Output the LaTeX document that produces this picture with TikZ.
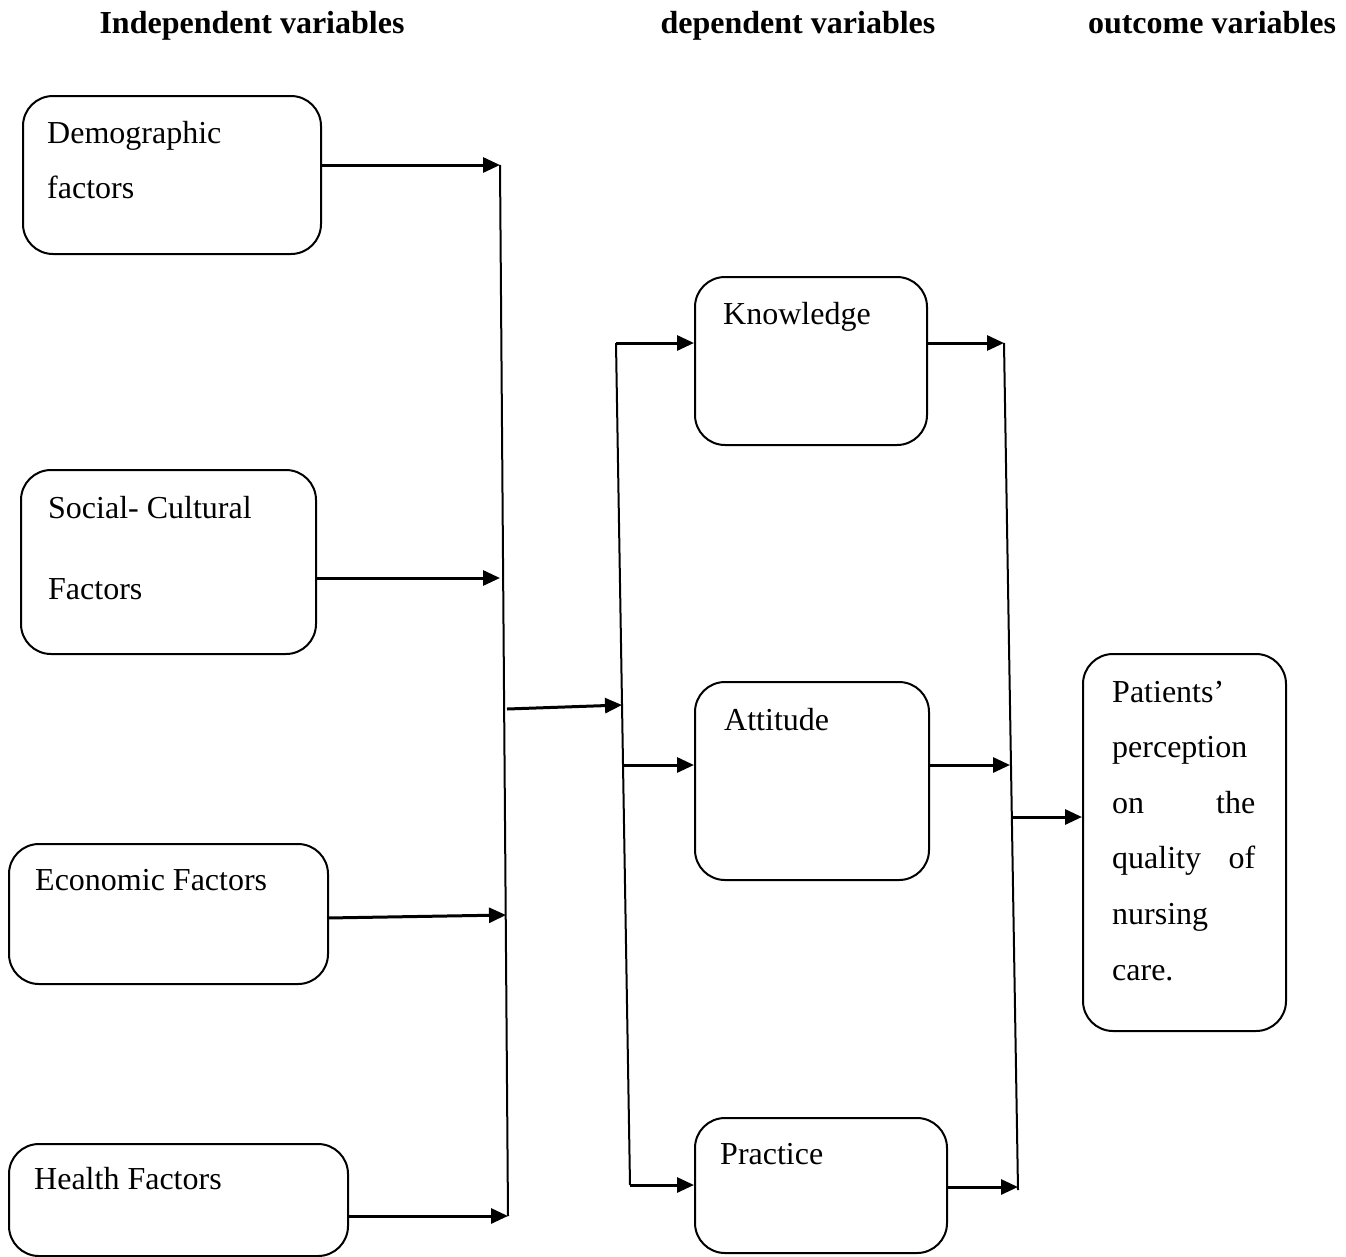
\documentclass[tikz,border=0pt]{standalone}
\usepackage{fontspec}
\setmainfont{Liberation Serif}
\usetikzlibrary{arrows.meta}
\begin{document}
\begin{tikzpicture}[x=1pt,y=-1pt,
  box/.style={draw,line width=2pt,rounded corners=30pt,rectangle,anchor=north west,inner sep=0pt},
  txt/.style={anchor=base west,inner sep=0pt,font=\fontsize{32}{38}\selectfont},
  head/.style={anchor=base,inner sep=0pt,font=\fontsize{32}{38}\selectfont\bfseries},
  arr/.style={line width=3pt,-{Triangle[length=17pt,width=15pt]}},
  bus/.style={line width=2pt}]
\useasboundingbox (0,0) rectangle (1346,1256);
% headers
\node[head] (h1) at (252,33) {Independent variables};
\node[head] (h2) at (798,33) {dependent variables};
\node[head] (h3) at (1212,33) {outcome variables};
% boxes
\node[box,minimum width=298pt,minimum height=158pt] (demo) at (22,95) {};
\node[box,minimum width=295pt,minimum height=184pt] (soc) at (20,469) {};
\node[box,minimum width=319pt,minimum height=140pt] (eco) at (8,843) {};
\node[box,minimum width=339pt,minimum height=112pt] (hea) at (8,1143) {};
\node[box,minimum width=232pt,minimum height=168pt] (kno) at (694,276) {};
\node[box,minimum width=234pt,minimum height=198pt] (att) at (694,681) {};
\node[box,minimum width=252pt,minimum height=135pt] (pra) at (694,1117) {};
\node[box,minimum width=203pt,minimum height=377pt] (pat) at (1082,653) {};
% texts
\node[txt] (tdemo) at (47,143) {\parbox[t]{260pt}{\baselineskip=55pt Demographic\\factors}};
\node[txt] (tsoc) at (48,518) {\parbox[t]{260pt}{\baselineskip=81pt Social- Cultural\\Factors}};
\node[txt] (teco) at (35,890) {Economic Factors};
\node[txt] (thea) at (34,1189) {Health Factors};
\node[txt] (tkno) at (723,324) {Knowledge};
\node[txt] (tatt) at (724,730) {Attitude};
\node[txt] (tpra) at (720,1164) {Practice};
\node[txt] (tpat) at (1112,702) {\parbox[t]{143pt}{\baselineskip=55.6pt Patients’\\perception\\\makebox[143pt][s]{on the}\\\makebox[143pt][s]{quality of}\\nursing\\care.}};
% bus coordinates
\coordinate (v1t) at (500,165);
\coordinate (v1b) at (508,1216);
\coordinate (v1s) at (500,578);
\coordinate (v1e) at (506,915);
\coordinate (v1m) at (507,709);
\coordinate (v2t) at (616,343);
\coordinate (v2b) at (630,1185);
\coordinate (v2m) at (622,705);
\coordinate (v2a) at (624,765);
\coordinate (v3t) at (1004,343);
\coordinate (v3b) at (1018,1190);
\coordinate (v3a) at (1010,765);
\coordinate (v3p) at (1018,1187);
\coordinate (v3m) at (1013,817);
% bus lines
\draw[bus] (v1t) -- (v1b);
\draw[bus] (v2t) -- (v2b);
\draw[bus] (v3t) -- (v3b);
% arrows into bus 1
\draw[arr] (demo.east |- v1t) -- (v1t);
\draw[arr] (soc.east |- v1s) -- (v1s);
\draw[arr] (327,918) -- (v1e);
\draw[arr] (hea.east |- v1b) -- (v1b);
% bus 1 to bus 2
\draw[arr] (v1m) -- (v2m);
% bus 2 to dependent boxes
\draw[arr] (v2t) -- (kno.west |- v2t);
\draw[arr] (v2a) -- (att.west |- v2a);
\draw[arr] (v2b) -- (pra.west |- v2b);
% dependent boxes to bus 3
\draw[arr] (kno.east |- v3t) -- (v3t);
\draw[arr] (att.east |- v3a) -- (v3a);
\draw[arr] (pra.east |- v3p) -- (v3p);
% bus 3 to outcome
\draw[arr] (v3m) -- (pat.west |- v3m);
\end{tikzpicture}
\end{document}
